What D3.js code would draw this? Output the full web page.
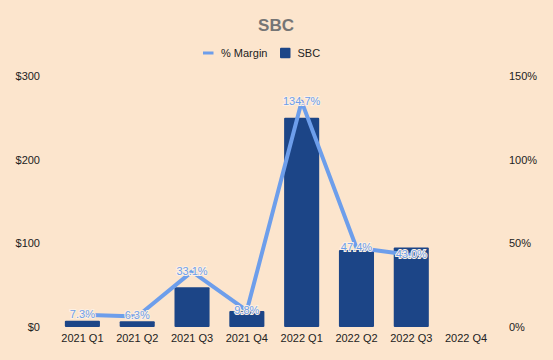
<!DOCTYPE html>
<html><head><meta charset="utf-8">
<script src="https://cdn.jsdelivr.net/npm/d3@7"></script>
<style>body{margin:0;background:#fce5cd;} svg{display:block;font-family:Arial,"Liberation Sans",sans-serif;}</style>
</head><body>
<svg id="c" width="553" height="360"></svg>
<script>
const categories = ["2021 Q1","2021 Q2","2021 Q3","2021 Q4","2022 Q1","2022 Q2","2022 Q3","2022 Q4"];
const sbc = [7.5, 7, 47.5, 19, 250, 92, 95, null];
const margin = [7.3, 6.3, 33.1, 9.8, 134.7, 47.4, 43.0, null];
const leftTicks = [0, 100, 200, 300];
const rightTicks = [0, 50, 100, 150];

const svg = d3.select("#c");
svg.append("rect").attr("width",553).attr("height",360).attr("fill","#fce5cd");

const x = d3.scaleBand().domain(categories).range([55, 493.5]).paddingInner(0.36).paddingOuter(0.18);
const yL = d3.scaleLinear().domain([0,300]).range([327, 76]);
const yR = d3.scaleLinear().domain([0,150]).range([327, 76]);

svg.append("text").attr("x",276).attr("y",31).attr("text-anchor","middle")
  .attr("font-size",17).attr("font-weight","bold").attr("fill","#757575").text("SBC");

// legend
const lg = svg.append("g");
lg.append("rect").attr("x",203).attr("y",51.5).attr("width",10.5).attr("height",3).attr("fill","#6d9eeb");
lg.append("text").attr("x",221).attr("y",57).attr("font-size",11).attr("fill","#222").text("% Margin");
lg.append("rect").attr("x",280).attr("y",47.7).attr("width",10.5).attr("height",10.5).attr("rx",1).attr("fill","#1c4587");
lg.append("text").attr("x",297.5).attr("y",57).attr("font-size",11).attr("fill","#222").text("SBC");

// axes
const axL = d3.axisLeft(yL).tickValues(leftTicks).tickFormat(d=>"$"+d).tickSize(0).tickPadding(0);
const gL = svg.append("g").attr("transform","translate(40,0)").call(axL);
const axR = d3.axisRight(yR).tickValues(rightTicks).tickFormat(d=>d+"%").tickSize(0).tickPadding(0);
const gR = svg.append("g").attr("transform","translate(509,0)").call(axR);
const axB = d3.axisBottom(x).tickSize(0).tickPadding(0);
const gB = svg.append("g").attr("transform","translate(0,334)").call(axB);
[gL,gR,gB].forEach(g=>{
  g.select(".domain").remove();
  g.selectAll("text").attr("font-size",11).attr("fill","#222").attr("font-family","Arial,'Liberation Sans',sans-serif");
});

// bars
svg.append("g").selectAll("rect").data(categories.map((c,i)=>({c,v:sbc[i]})).filter(d=>d.v!=null))
  .join("rect")
  .attr("x",d=>x(d.c)).attr("width",x.bandwidth())
  .attr("y",d=>yL(d.v)).attr("height",d=>yL(0)-yL(d.v))
  .attr("rx",1).attr("fill","#1c4587");

// line
const pts = categories.map((c,i)=>({c,v:margin[i]})).filter(d=>d.v!=null);
const line = d3.line().x(d=>x(d.c)+x.bandwidth()/2).y(d=>yR(d.v));
svg.append("path").datum(pts).attr("d",line).attr("fill","none")
  .attr("stroke","#6d9eeb").attr("stroke-width",4).attr("stroke-linejoin","round");

// labels
svg.append("g").selectAll("text").data(pts).join("text")
  .attr("x",d=>x(d.c)+x.bandwidth()/2).attr("y",d=>yR(d.v)-1)
  .attr("text-anchor","middle").attr("dominant-baseline","central")
  .attr("font-size",11).attr("fill","#6d9eeb")
  .attr("stroke","#fdf0e2").attr("stroke-width",2).attr("paint-order","stroke")
  .text(d=>d.v.toFixed(1)+"%");
</script>
</body></html>
